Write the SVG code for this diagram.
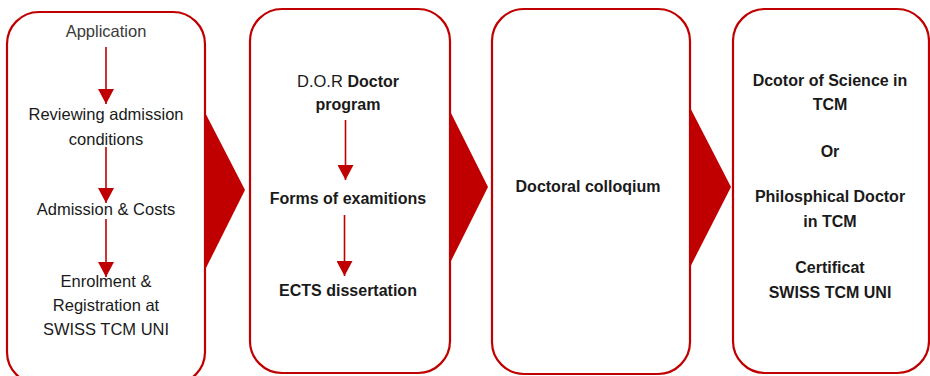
<svg xmlns="http://www.w3.org/2000/svg" width="930" height="376" viewBox="0 0 930 376">
<defs>
<style>
.box{fill:#fff;stroke:#C00000;stroke-width:2.2}
.chev{fill:#C00000}
.t{font-family:"Liberation Sans",Arial,sans-serif;font-size:16.5px;fill:#1a1a1a;text-anchor:middle}
.b{font-family:"Liberation Sans",Arial,sans-serif;font-size:16px;font-weight:bold;fill:#1a1a1a;text-anchor:middle}
.ln{stroke:#C00000;stroke-width:1.6;fill:none}
</style>
<marker id="ah" viewBox="0 0 15 16" refX="15" refY="8" markerWidth="15" markerHeight="16" markerUnits="userSpaceOnUse" orient="auto">
<path d="M0,0 L15,8 L0,16 Z" fill="#C00000"/>
</marker>
</defs>
<g id="chevrons">
<polygon class="chev" points="195,93 245,190 195,290"/>
<polygon class="chev" points="440,91 488,187 440,283"/>
<polygon class="chev" points="680,88 731,187 680,287"/>
</g>
<g id="node1">
<rect class="box" x="7" y="12" width="198" height="372" rx="32"/>
<text class="t" x="106" y="37" style="fill:#3a3a3a">Application</text>
<text class="t" x="106" y="120">Reviewing admission</text>
<text class="t" x="106" y="145">conditions</text>
<text class="t" x="106" y="215">Admission &amp; Costs</text>
<text class="t" x="106" y="287">Enrolment &amp;</text>
<text class="t" x="106" y="311">Registration at</text>
<text class="t" x="106" y="335">SWISS TCM UNI</text>
</g>
<g id="node2">
<rect class="box" x="250" y="9" width="200" height="364" rx="32"/>
<text class="t" x="348" y="87"><tspan>D.O.R </tspan><tspan style="font-weight:bold;font-size:16px">Doctor</tspan></text>
<text class="b" x="348" y="110">program</text>
<text class="b" x="348" y="204">Forms of examitions</text>
<text class="b" x="348" y="296">ECTS dissertation</text>
</g>
<g id="node3">
<rect class="box" x="492" y="9" width="198" height="365" rx="32"/>
<text class="b" x="588" y="192">Doctoral colloqium</text>
</g>
<g id="node4">
<rect class="box" x="733" y="9" width="196" height="364" rx="32"/>
<text class="b" x="830" y="86">Dcotor of Science in</text>
<text class="b" x="830" y="110">TCM</text>
<text class="b" x="830" y="157">Or</text>
<text class="b" x="830" y="202">Philosphical Doctor</text>
<text class="b" x="830" y="227">in TCM</text>
<text class="b" x="830" y="273">Certificat</text>
<text class="b" x="830" y="298">SWISS TCM UNI</text>
</g>
<g id="connectors">
<line class="ln" x1="106" y1="47" x2="106" y2="104" marker-end="url(#ah)"/>
<line class="ln" x1="106" y1="147" x2="106" y2="203" marker-end="url(#ah)"/>
<line class="ln" x1="106" y1="219" x2="106" y2="277" marker-end="url(#ah)"/>
<line class="ln" x1="345.5" y1="120" x2="345.5" y2="180" marker-end="url(#ah)"/>
<line class="ln" x1="344.5" y1="215" x2="344.5" y2="276" marker-end="url(#ah)"/>
</g>
</svg>
